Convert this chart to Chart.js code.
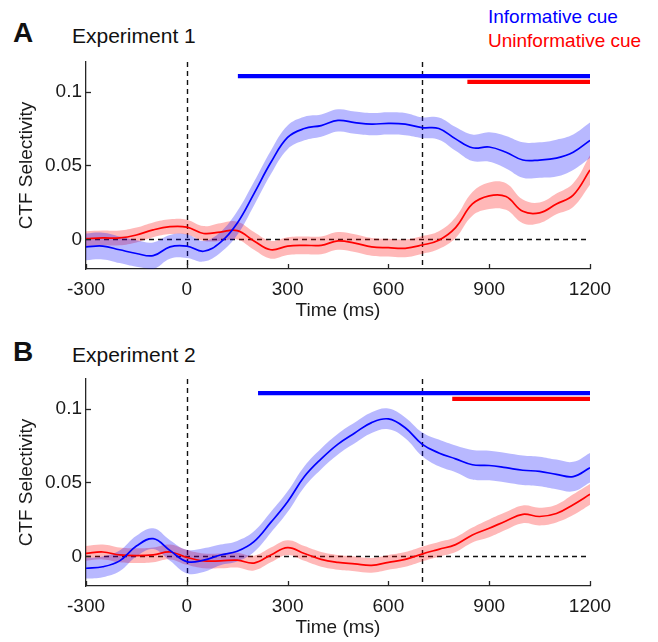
<!DOCTYPE html>
<html><head><meta charset="utf-8">
<script src="https://cdn.jsdelivr.net/npm/chart.js@4/dist/chart.umd.min.js"></script>
<style>
body{margin:0;width:658px;height:642px;background:#fff;position:relative;overflow:hidden;font-family:"Liberation Sans",Arial,sans-serif;}
.c{position:absolute;left:0;width:658px;height:320px;}
.t{position:absolute;white-space:nowrap;line-height:1;color:#111;}
</style></head><body>
<div class="t" style="left:13px;top:19px;font-size:28px;font-weight:bold;">A</div>
<div class="t" style="left:72px;top:25px;font-size:21px;">Experiment 1</div>
<div class="t" style="left:488px;top:7px;font-size:19px;color:#0000ff;">Informative cue</div>
<div class="t" style="left:488px;top:31px;font-size:19px;color:#ff0000;">Uninformative cue</div>
<div class="t" style="left:13px;top:338px;font-size:28px;font-weight:bold;">B</div>
<div class="t" style="left:72px;top:344px;font-size:21px;">Experiment 2</div>
<div class="c" style="top:0"><canvas id="cA"></canvas></div>
<div class="c" style="top:317px"><canvas id="cB"></canvas></div>
<script>
const times = [-300,-250,-200,-150,-100,-50,0,50,100,150,200,250,300,350,400,450,500,550,600,650,700,750,800,850,900,950,1000,1050,1100,1150,1200];
const xTicks = [-300,0,300,600,900,1200];
const yTicks = [0,0.05,0.1];
const eventTimes = [0,700];

// Experiment 1
const infA     = [-0.005,-0.0045,-0.007,-0.0095,-0.011,-0.005,-0.0045,-0.008,-0.002,0.011,0.031,0.052,0.069,0.075,0.077,0.0805,0.079,0.078,0.0785,0.078,0.0756,0.075,0.068,0.062,0.0625,0.059,0.0537,0.0537,0.055,0.059,0.067];
const infAsem  = [0.009,0.009,0.009,0.009,0.009,0.008,0.008,0.007,0.007,0.008,0.008,0.008,0.008,0.008,0.0075,0.0075,0.0075,0.0075,0.0075,0.0075,0.007,0.0075,0.008,0.009,0.01,0.011,0.012,0.012,0.0125,0.012,0.012];
const uninfA   = [0.0005,0.001,0.001,0.003,0.0065,0.0086,0.0083,0.004,0.005,0.006,-0.001,-0.007,-0.0045,-0.004,-0.004,-0.001,-0.0025,-0.005,-0.0056,-0.006,-0.0038,-0.0005,0.008,0.024,0.0295,0.029,0.019,0.018,0.024,0.030,0.047];
const uninfAsem= [0.005,0.005,0.005,0.005,0.005,0.005,0.005,0.005,0.006,0.006,0.006,0.006,0.006,0.006,0.006,0.006,0.006,0.006,0.006,0.006,0.006,0.006,0.007,0.008,0.009,0.009,0.008,0.007,0.007,0.008,0.01];
const sigInfA   = [152,1200];
const sigUninfA = [835,1200];

// Experiment 2
const infB     = [-0.008,-0.007,-0.003,0.007,0.012,0.004,-0.0035,-0.0025,0.001,0.0035,0.010,0.023,0.037,0.054,0.066,0.076,0.0835,0.0905,0.093,0.087,0.076,0.070,0.066,0.062,0.0615,0.060,0.0583,0.0575,0.0555,0.054,0.060];
const infBsem  = [0.007,0.007,0.007,0.007,0.007,0.007,0.008,0.008,0.007,0.007,0.007,0.007,0.007,0.007,0.007,0.007,0.007,0.007,0.007,0.007,0.008,0.009,0.009,0.01,0.01,0.01,0.01,0.01,0.01,0.01,0.01];
const uninfB   = [0.002,0.003,0.001,0.0005,0.001,0.003,-0.0007,-0.003,-0.003,-0.0025,-0.0045,0.001,0.006,0.002,-0.002,-0.004,-0.005,-0.006,-0.004,-0.002,0.0016,0.0048,0.008,0.0145,0.019,0.024,0.0285,0.027,0.029,0.035,0.042];
const uninfBsem= [0.005,0.005,0.005,0.005,0.005,0.005,0.005,0.005,0.005,0.005,0.005,0.005,0.005,0.005,0.005,0.005,0.005,0.005,0.005,0.005,0.005,0.005,0.005,0.005,0.006,0.006,0.006,0.006,0.006,0.007,0.007];
const sigInfB   = [212,1200];
const sigUninfB = [790,1200];

const sigLevelInf = 0.1105;
const sigLevelUninf = 0.1065;

const BLUE = '#0000ff', RED = '#ff0000';
const BLUE_BAND = 'rgba(0,0,255,0.28)', RED_BAND = 'rgba(255,0,0,0.28)';
const AXIS = '#262626';
const FONT = '"Liberation Sans", Arial, sans-serif';

function pts(arr, sem, sign) {
  return times.map((t, i) => ({x: t, y: arr[i] + (sem ? sign * sem[i] : 0)}));
}
function bandSets(mean, sem, color) {
  return [
    {data: pts(mean, sem, 1), borderWidth: 0, pointRadius: 0, fill: false, tension: 0.4, order: 10, borderColor: 'rgba(0,0,0,0)'},
    {data: pts(mean, sem, -1), borderWidth: 0, pointRadius: 0, fill: '-1', backgroundColor: color, tension: 0.4, order: 10, borderColor: 'rgba(0,0,0,0)'}
  ];
}
function meanSet(mean, color) {
  return {data: pts(mean), borderColor: color, borderWidth: 1.7, pointRadius: 0, fill: false, tension: 0.4, order: 5};
}
function sigSet(range, level, color) {
  return {data: range.map(t => ({x: t, y: level})), borderColor: color, borderWidth: 4.2, pointRadius: 0, fill: false, order: 1, borderCapStyle: 'butt'};
}

const refLines = {
  id: 'refLines',
  beforeDatasetsDraw(chart) {
    const {ctx, chartArea: a, scales: {x, y}} = chart;
    ctx.save();
    ctx.strokeStyle = '#111';
    ctx.lineWidth = 1.4;
    ctx.setLineDash([5, 4]);
    eventTimes.forEach(v => {
      const px = Math.round(x.getPixelForValue(v)) + 0.5;
      ctx.beginPath(); ctx.moveTo(px, a.top); ctx.lineTo(px, a.bottom); ctx.stroke();
    });
    const py = Math.round(y.getPixelForValue(0)) + 0.5;
    ctx.beginPath(); ctx.moveTo(a.left, py); ctx.lineTo(a.right, py); ctx.stroke();
    ctx.restore();
  },
  afterDraw(chart) {
    const {ctx, chartArea: a, scales: {x, y}} = chart;
    ctx.save();
    ctx.strokeStyle = AXIS;
    ctx.lineWidth = 1.3;
    xTicks.forEach(v => {
      const px = Math.round(x.getPixelForValue(v)) + 0.5;
      ctx.beginPath(); ctx.moveTo(px, a.bottom); ctx.lineTo(px, a.bottom - 5); ctx.stroke();
    });
    yTicks.forEach(v => {
      const py = Math.round(y.getPixelForValue(v)) + 0.5;
      ctx.beginPath(); ctx.moveTo(a.left, py); ctx.lineTo(a.left + 5, py); ctx.stroke();
    });
    ctx.restore();
  }
};

function makeChart(id, inf, infSem, uninf, uninfSem, sigInf, sigUninf) {
  const datasets = [
    sigSet(sigInf, sigLevelInf, BLUE),
    sigSet(sigUninf, sigLevelUninf, RED),
    meanSet(inf, BLUE),
    meanSet(uninf, RED),
    ...bandSets(inf, infSem, BLUE_BAND),
    ...bandSets(uninf, uninfSem, RED_BAND)
  ];
  return new Chart(document.getElementById(id), {
    type: 'line',
    data: {datasets},
    plugins: [refLines],
    options: {
      responsive: true,
      maintainAspectRatio: false,
      animation: false,
      events: [],
      layout: {padding: {left: 17, top: 62, right: 68, bottom: 0}},
      plugins: {legend: {display: false}, tooltip: {enabled: false}},
      scales: {
        x: {
          type: 'linear', min: -300, max: 1200,
          afterBuildTicks: s => { s.ticks = xTicks.map(v => ({value: v})); },
          afterFit: s => { s.height = 51; },
          grid: {display: true, drawOnChartArea: false, drawTicks: false},
          border: {display: true, color: AXIS, width: 1.3},
          ticks: {font: {size: 19, family: FONT}, color: '#1a1a1a', padding: 9, maxRotation: 0, autoSkip: false, callback: v => String(v)},
          title: {display: true, text: 'Time (ms)', font: {size: 19, lineHeight: 1, family: FONT}, color: '#1a1a1a', padding: 0}
        },
        y: {
          min: -0.02, max: 0.12,
          afterBuildTicks: s => { s.ticks = yTicks.map(v => ({value: v})); },
          afterFit: s => { s.width = 69; },
          grid: {display: true, drawOnChartArea: false, drawTicks: false},
          border: {display: true, color: AXIS, width: 1.3},
          ticks: {font: {size: 19, family: FONT}, color: '#1a1a1a', padding: 4, autoSkip: false, callback: v => String(v)},
          title: {display: true, text: 'CTF Selectivity', font: {size: 19, lineHeight: 1, family: FONT}, color: '#1a1a1a', padding: 0}
        }
      }
    }
  });
}

makeChart('cA', infA, infAsem, uninfA, uninfAsem, sigInfA, sigUninfA);
makeChart('cB', infB, infBsem, uninfB, uninfBsem, sigInfB, sigUninfB);
</script>
</body></html>
